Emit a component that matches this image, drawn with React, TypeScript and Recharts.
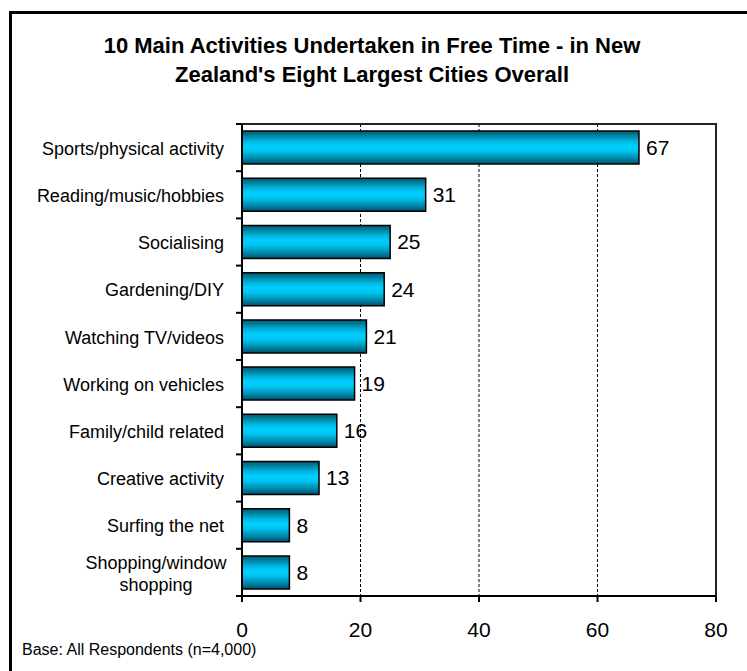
import React from "react";
import {
  BarChart,
  Bar,
  XAxis,
  YAxis,
  CartesianGrid,
  LabelList,
  ReferenceArea,
} from "recharts";

// ---- data ----
const categories: string[] = [
  "Sports/physical activity",
  "Reading/music/hobbies",
  "Socialising",
  "Gardening/DIY",
  "Watching TV/videos",
  "Working on vehicles",
  "Family/child related",
  "Creative activity",
  "Surfing the net",
  "Shopping/window shopping",
];
const percentages: number[] = [67, 31, 25, 24, 21, 19, 16, 13, 8, 8];
const yTickLabels: string[] = [
  "Sports/physical activity",
  "Reading/music/hobbies",
  "Socialising",
  "Gardening/DIY",
  "Watching TV/videos",
  "Working on vehicles",
  "Family/child related",
  "Creative activity",
  "Surfing the net",
  "Shopping/window\nshopping",
];
const xTicks: number[] = [0, 20, 40, 60, 80];
const titleLines: string[] = [
  "10 Main Activities Undertaken in Free Time - in New",
  "Zealand's Eight Largest Cities Overall",
];
const footnote = "Base: All Respondents (n=4,000)";

const data = categories.map((c, i) => ({ activity: c, value: percentages[i] }));

// ---- layout constants ----
const W = 747;
const H = 671;
const Y_AXIS_WIDTH = 242;
const FONT = "'Liberation Sans', Arial, sans-serif";

function CategoryTick(props: any) {
  const { y, payload } = props;
  const half = payload && typeof payload.offset === "number" && payload.offset > 0 ? payload.offset : 23.6;
  const idx = categories.indexOf(payload.value);
  const label = idx >= 0 ? yTickLabels[idx] : String(payload.value);
  const lines = label.split("\n");
  const axisX = Y_AXIS_WIDTH;
  const isLast = idx === categories.length - 1;
  return (
    <g>
      <line x1={axisX - 6} x2={axisX} y1={y - half} y2={y - half} stroke="#000" strokeWidth={2} />
      {isLast && (
        <line x1={axisX - 6} x2={axisX} y1={y + half} y2={y + half} stroke="#000" strokeWidth={2} />
      )}
      {lines.length === 1 ? (
        <text
          x={axisX - 18}
          y={y}
          dy="0.4em"
          textAnchor="end"
          fontSize={18}
          fontFamily={FONT}
          fill="#000"
        >
          {lines[0]}
        </text>
      ) : (
        lines.map((ln, i) => (
          <text
            key={i}
            x={axisX - 18 - 68}
            y={y + (i - (lines.length - 1) / 2) * 22}
            dy="0.4em"
            textAnchor="middle"
            fontSize={18}
            fontFamily={FONT}
            fill="#000"
          >
            {ln}
          </text>
        ))
      )}
    </g>
  );
}

export default function App() {
  return (
    <div
      style={{
        position: "fixed",
        left: 0,
        top: 0,
        width: W,
        height: H,
        overflow: "hidden",
        background: "#fff",
        fontFamily: FONT,
      }}
    >
      <div
        style={{
          position: "absolute",
          left: 9,
          top: 11,
          width: 800,
          height: 720,
          border: "3px solid #000",
          boxSizing: "border-box",
        }}
      />
      <div
        style={{
          position: "absolute",
          left: 0,
          top: 31,
          width: 744,
          textAlign: "center",
          fontWeight: "bold",
          fontSize: 22,
          lineHeight: "29px",
          color: "#000",
          whiteSpace: "nowrap",
        }}
      >
        {titleLines.map((t, i) => (
          <div key={i}>{t}</div>
        ))}
      </div>
      <div
        style={{
          position: "absolute",
          left: 22,
          top: 640,
          fontSize: 16,
          lineHeight: "20px",
          color: "#000",
          whiteSpace: "nowrap",
        }}
      >
        {footnote}
      </div>
      <div style={{ position: "absolute", left: 0, top: 0 }}>
        <BarChart
          width={W}
          height={H}
          data={data}
          layout="vertical"
          margin={{ top: 124, right: 31, bottom: 0, left: 0 }}
          barCategoryGap="15%"
        >
          <defs>
            <linearGradient id="barGrad" x1="0" y1="0" x2="0" y2="1">
              <stop offset="0%" stopColor="#005a73" />
              <stop offset="12%" stopColor="#007c99" />
              <stop offset="30%" stopColor="#00b4dd" />
              <stop offset="45%" stopColor="#00cfff" />
              <stop offset="60%" stopColor="#00c4f0" />
              <stop offset="80%" stopColor="#0090b3" />
              <stop offset="100%" stopColor="#00506a" />
            </linearGradient>
          </defs>
          <CartesianGrid
            horizontal={false}
            vertical={true}
            stroke="#000"
            strokeDasharray="3 2"
            strokeWidth={1}
          />
          <ReferenceArea x1={0} x2={80} fill="none" stroke="#222" strokeWidth={2} ifOverflow="visible" />
          <XAxis
            type="number"
            domain={[0, 80]}
            ticks={xTicks}
            interval={0}
            height={75}
            axisLine={{ stroke: "#000", strokeWidth: 2 }}
            tickLine={{ stroke: "#000", strokeWidth: 2 }}
            tickSize={6}
            tickMargin={20}
            tick={{ fontSize: 21, fill: "#000", fontFamily: FONT }}
          />
          <YAxis
            type="category"
            dataKey="activity"
            width={Y_AXIS_WIDTH}
            interval={0}
            axisLine={{ stroke: "#000", strokeWidth: 2 }}
            tickLine={false}
            tick={<CategoryTick />}
          />
          <Bar
            dataKey="value"
            fill="url(#barGrad)"
            stroke="#000"
            strokeWidth={1.5}
            isAnimationActive={false}
          >
            <LabelList
              dataKey="value"
              position="right"
              offset={7}
              fontSize={21}
              fill="#000"
              fontFamily={FONT}
            />
          </Bar>
        </BarChart>
      </div>
    </div>
  );
}
